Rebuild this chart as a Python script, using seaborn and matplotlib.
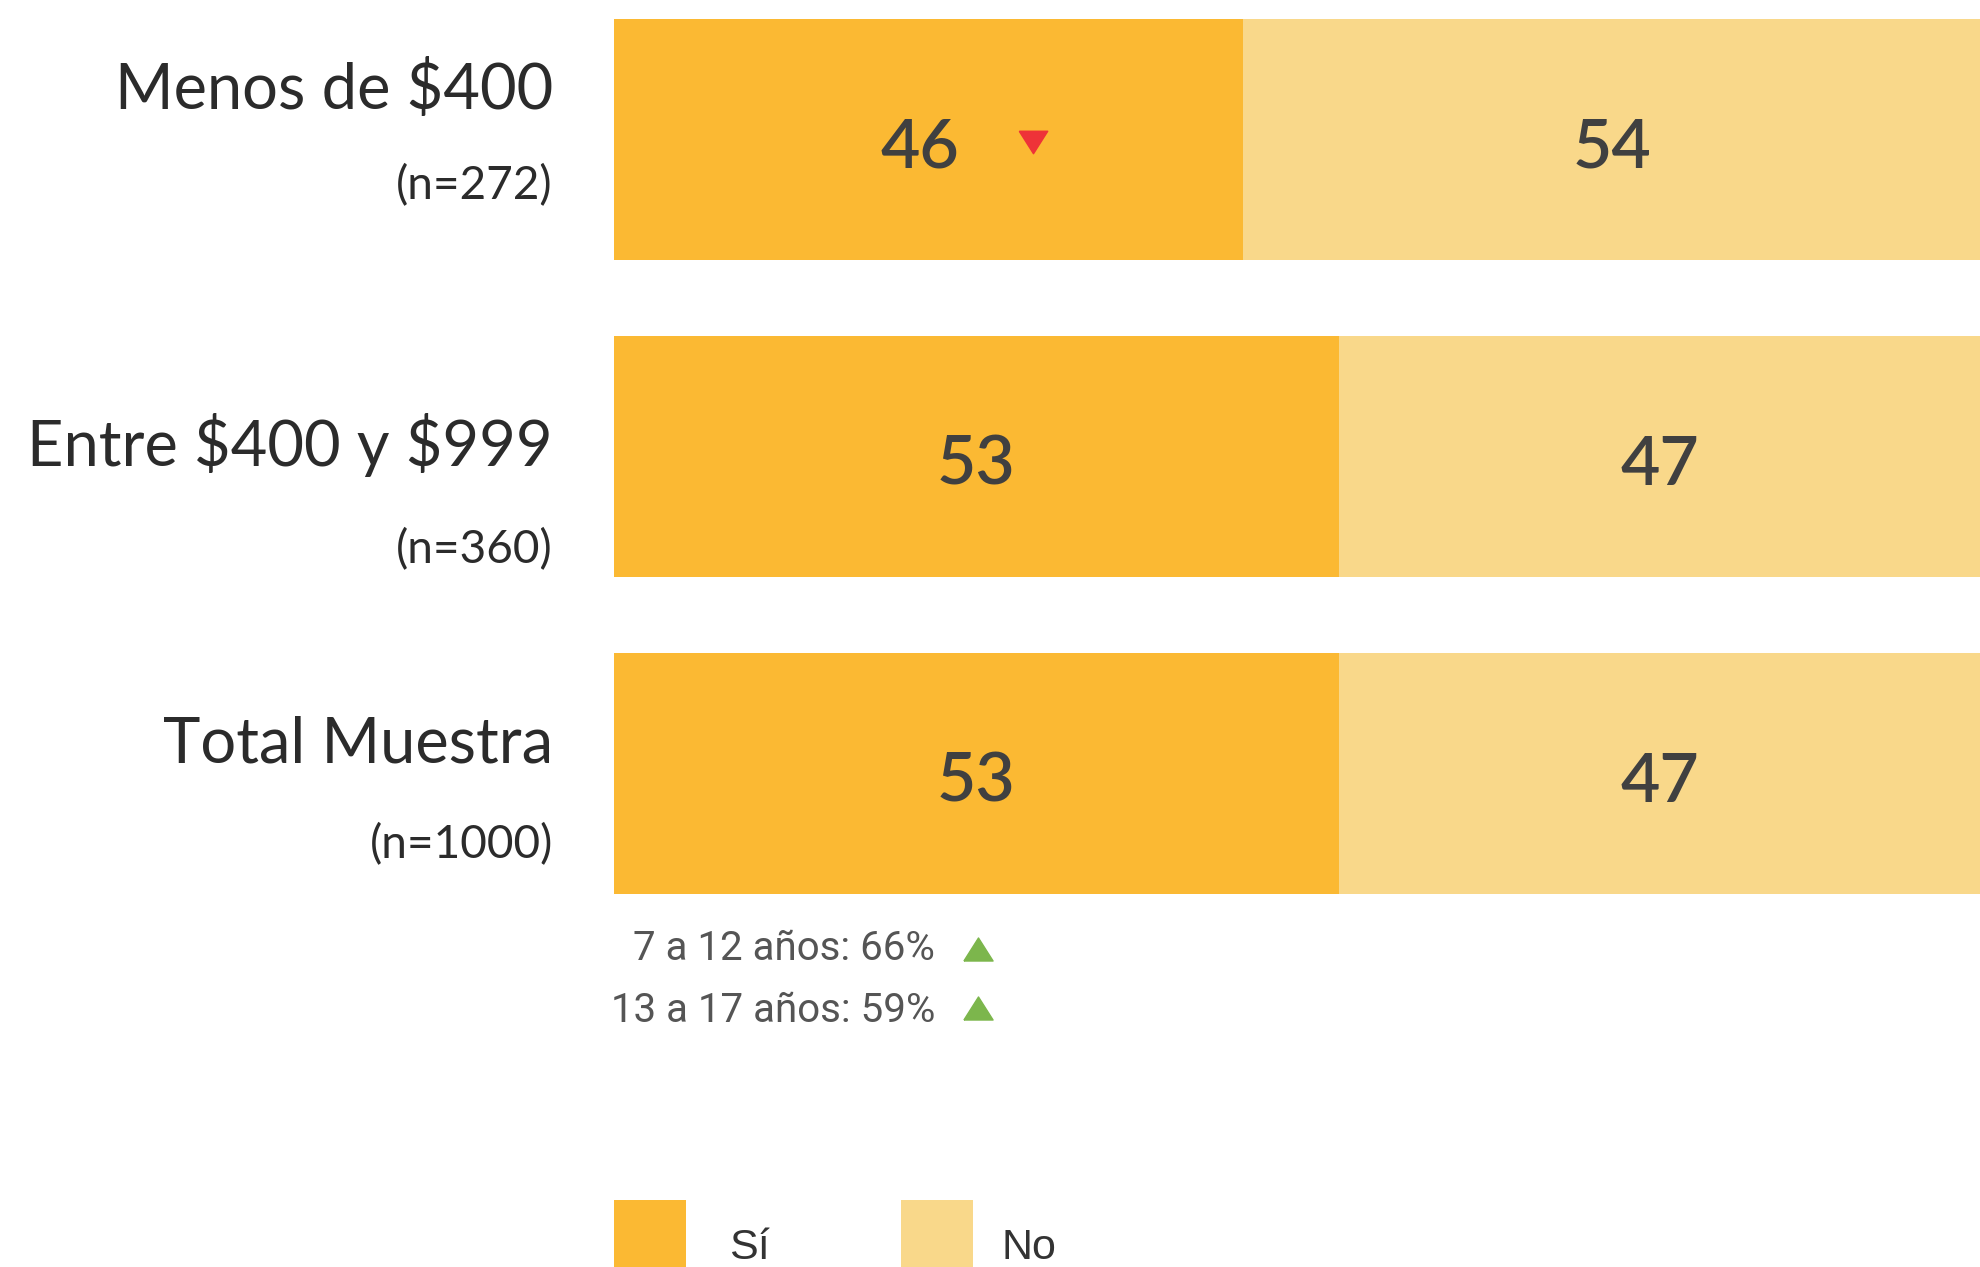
import matplotlib
matplotlib.use("Agg")
import matplotlib.pyplot as plt
from matplotlib.patches import Patch
from matplotlib.transforms import offset_copy, Affine2D
import seaborn as sns
import pandas as pd

# data
categories = ["Menos de $400", "Entre $400 y $999", "Total Muestra"]
sample_sizes = [272, 360, 1000]
si_values = [46, 53, 53]
no_values = [54, 47, 47]
series_names = ["Sí", "No"]
note_groups = ["7 a 12 años", "13 a 17 años"]
note_values = [66, 59]

SI_COLOR = "#FBB933"
NO_COLOR = "#F9D88A"
TEXT_DARK = "#2b2b2b"
VALUE_COLOR = "#404040"
NOTE_COLOR = "#555555"
UP_COLOR = "#7CB64C"
DOWN_COLOR = "#EE3338"

W, H = 1981, 1267
DPI = 100

# layout (pixels), tuned by eye
LEFT_PX = 614
ROW_PITCH = 317
FIRST_ROW_PX = 139.5
MAIN_BASE = [-30.5, 9.5, -11.5]
N_BASE = [59.5, 106.5, 84.5]
TRI = [(-1, -0.79), (1, -0.79), (0, 0.79), (-1, -0.79)]
TRI_DOWN = [(-1, 0.79), (1, 0.79), (0, -0.79), (-1, 0.79)]


def main():
    df = pd.DataFrame({"cat": categories, "si": si_values, "no": no_values})
    df["total"] = df["si"] + df["no"]

    sns.set_style("white")
    fig = plt.figure(figsize=(W / DPI, H / DPI), dpi=DPI)
    ax = fig.add_axes([LEFT_PX / W, 0, 1 - LEFT_PX / W, 1])

    # stacked bars: full length in "No" colour, then the "Sí" part over it
    sns.barplot(data=df, x="total", y="cat", color=NO_COLOR, width=0.76,
                orient="h", ax=ax, saturation=1, linewidth=0)
    sns.barplot(data=df, x="si", y="cat", color=SI_COLOR, width=0.76,
                orient="h", ax=ax, saturation=1, linewidth=0)

    ax.set_xlim(0, 100)
    top = -FIRST_ROW_PX / ROW_PITCH
    bottom = top + H / ROW_PITCH
    ax.set_ylim(bottom, top)
    ax.set_axis_off()

    ytrans = ax.get_yaxis_transform()

    for i, row in df.iterrows():
        # row labels on the left
        ax.annotate(row["cat"], xy=(0, i), xycoords=ytrans,
                    xytext=(-61, -MAIN_BASE[i]), textcoords="offset pixels",
                    ha="right", va="baseline", fontsize=45.5, family="Lato",
                    color=TEXT_DARK, parse_math=False, annotation_clip=False)
        ax.annotate(f"(n={sample_sizes[i]})", xy=(0, i), xycoords=ytrans,
                    xytext=(-61, -N_BASE[i]), textcoords="offset pixels",
                    ha="right", va="baseline", fontsize=33, family="Lato",
                    color=TEXT_DARK, annotation_clip=False)

        # values inside the segments
        ax.annotate(f"{row['si']}", xy=(row["si"] / 2, i),
                    xytext=(-8 if i == 0 else 0, -28), textcoords="offset pixels",
                    ha="center", va="baseline", fontsize=49, family="Lato",
                    weight="semibold", color=VALUE_COLOR)
        ax.annotate(f"{row['no']}", xy=(row["si"] + row["no"] / 2, i),
                    xytext=(0, -28), textcoords="offset pixels",
                    ha="center", va="baseline", fontsize=49, family="Lato",
                    weight="semibold", color=VALUE_COLOR)

    # significance marker on the first row
    tr_down = offset_copy(ax.transData, fig=fig, x=105, y=-2.5, units="dots")
    ax.plot([si_values[0] / 2], [0], marker=TRI_DOWN, markersize=20.5,
            color=DOWN_COLOR, linestyle="none", transform=tr_down)

    # notes under the total row
    last = len(categories) - 1
    note_base = [186.5, 248.5]
    note_mark = [175.5, 234.5]
    for k, (grp, val) in enumerate(zip(note_groups, note_values)):
        ax.annotate(f"{grp}: {val}%", xy=(0, last), xycoords=ytrans,
                    xytext=(321, -note_base[k]), textcoords="offset pixels",
                    ha="right", va="baseline", fontsize=29, family="Roboto",
                    color=NOTE_COLOR, annotation_clip=False)
        tr_up = offset_copy(ytrans, fig=fig, x=364, y=-note_mark[k], units="dots")
        ax.plot([0], [last], marker=TRI, markersize=21, color=UP_COLOR,
                linestyle="none", transform=tr_up, clip_on=False)

    # legend at the bottom, partly cut by the edge like the source
    handles = [Patch(facecolor=SI_COLOR, edgecolor="none"),
               Patch(facecolor=NO_COLOR, edgecolor="none")]
    leg = fig.legend(handles, series_names, loc="upper left",
                     bbox_to_anchor=(LEFT_PX / W, 1 - 1200 / H), ncol=2,
                     frameon=False, borderpad=0, borderaxespad=0,
                     handlelength=1.67, handleheight=2.48, handletextpad=1.0,
                     columnspacing=3.05,
                     prop={"family": "Liberation Sans", "size": 31},
                     labelcolor="#333333")
    # nudge the legend labels a bit lower (and "No" closer to its swatch)
    for t, dx in zip(leg.get_texts(), [0, -14]):
        t.set_transform(t.get_transform() + Affine2D().translate(dx, -6))

    fig.savefig("out.png", dpi=DPI)
    plt.close(fig)


if __name__ == "__main__":
    main()
